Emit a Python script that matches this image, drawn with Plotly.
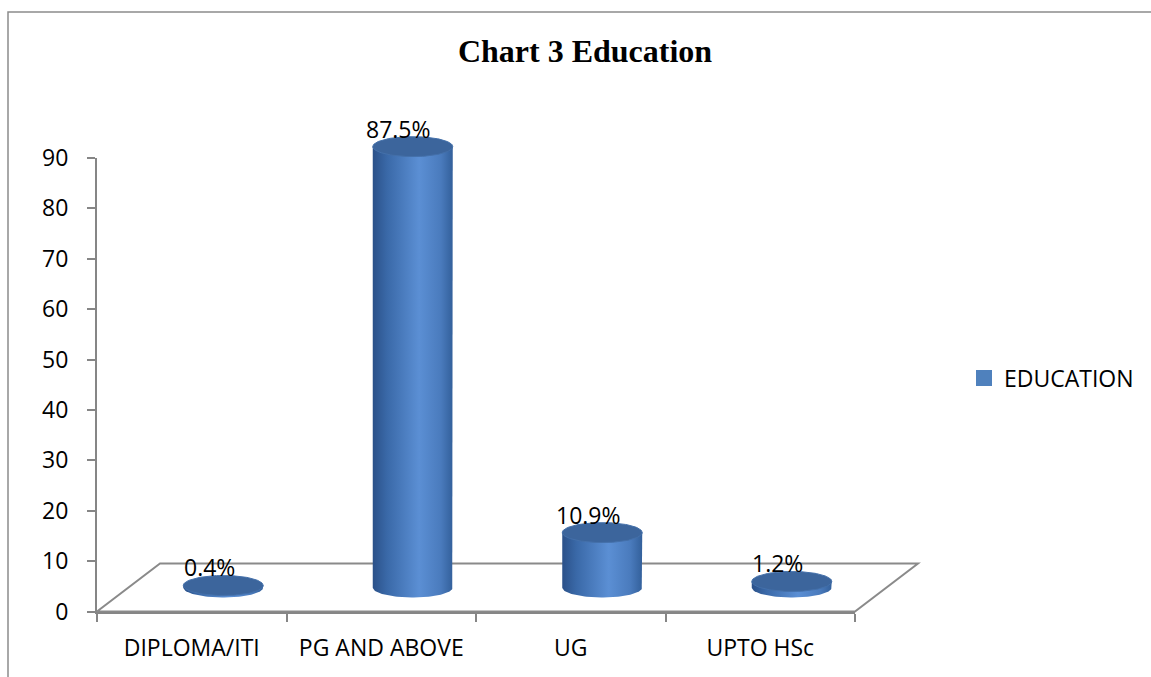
import numpy as np
import plotly.graph_objects as go

# ---------------- data ----------------
categories = ["DIPLOMA/ITI", "PG AND ABOVE", "UG", "UPTO HSc"]
values = [0.4, 87.5, 10.9, 1.2]
value_labels = ["0.4%", "87.5%", "10.9%", "1.2%"]
series_name = "EDUCATION"
y_tick_values = [0, 10, 20, 30, 40, 50, 60, 70, 80, 90]
title_text = "Chart 3 Education"

# ---------------- geometry (pixels of the 1151x677 canvas) ----------------
W, H = 1151, 677
FX0, FX1 = 97, 855          # front floor edge, left/right
FY0, FY90 = 611.5, 158      # value 0 / value 90 on the front axis
PXU = (FY0 - FY90) / 90.0   # pixels per value unit
DDX, DDY = 63, 48           # full depth offset of the floor
CAT_PX = (FX1 - FX0) / len(categories)
R_PX, RY_PX = 40, 10        # cylinder radius / ellipse half-height
Y2_LO, Y2_HI = -6, 110

def fx(px):
    return px / W

def fy(py):
    return 1 - py / H

zero2 = FY0 - DDY / 2
x2_dom = [fx(FX0 + DDX / 2), fx(FX1 + DDX / 2)]
y2_dom = [fy(zero2 - Y2_LO * PXU), fy(zero2 - Y2_HI * PXU)]

rx = R_PX / CAT_PX
ry = RY_PX / PXU

body_scale = [
    [0.0, "#2b5189"],
    [0.18, "#3a69a8"],
    [0.58, "#5b8fd4"],
    [0.85, "#4a7bbd"],
    [1.0, "#33609b"],
]

fig = go.Figure()

fig.add_trace(go.Scatter(
    x=categories, y=[None] * len(categories), mode="markers",
    name=series_name, xaxis="x", yaxis="y",
    marker=dict(symbol="square", size=16, color="#4f81bd"),
    hoverinfo="skip", showlegend=True,
))

for i, (cat, v) in enumerate(zip(categories, values)):
    a = np.linspace(0, -np.pi, 60)
    bx = list(i + rx * np.cos(a))
    by = list(ry * np.sin(a))
    xs = [i - rx, i - rx, i + rx, i + rx] + bx + [i - rx]
    ys = [0, v, v, 0] + by + [0]
    fig.add_trace(go.Scatter(
        x=xs, y=ys, mode="lines", fill="toself",
        line=dict(width=0, color="rgba(0,0,0,0)"),
        fillgradient=dict(type="horizontal", colorscale=body_scale),
        xaxis="x2", yaxis="y2", showlegend=False, hoverinfo="skip",
    ))
    t = np.linspace(0, 2 * np.pi, 120)
    fig.add_trace(go.Scatter(
        x=list(i + rx * np.cos(t)), y=list(v + ry * np.sin(t)),
        mode="lines", fill="toself", fillcolor="#3c659c",
        line=dict(width=1, color="#4470aa"),
        xaxis="x2", yaxis="y2", showlegend=False, hoverinfo="skip",
    ))

for i, (v, lab) in enumerate(zip(values, value_labels)):
    fig.add_annotation(
        x=i, y=v, xref="x2", yref="y2", text=lab, showarrow=False,
        xshift=-14, yshift=18,
        font=dict(family="Open Sans", size=23, color="#000000"),
    )

floor_path = (
    f"M {fx(FX0)},{fy(FY0)} L {fx(FX1)},{fy(FY0)} "
    f"L {fx(FX1 + DDX)},{fy(FY0 - DDY)} L {fx(FX0 + DDX)},{fy(FY0 - DDY)} Z"
)
fig.add_shape(type="path", path=floor_path, xref="paper", yref="paper",
              line=dict(color="#8a8a8a", width=2), layer="below")
fig.add_shape(type="rect", xref="paper", yref="paper",
              x0=fx(8), y0=fy(12), x1=1.02, y1=-0.02,
              line=dict(color="#8c8c8c", width=1.5), layer="below")

axis_col = "#868686"
fig.update_layout(
    width=W, height=H, autosize=False,
    margin=dict(l=0, r=0, t=0, b=0, pad=0, autoexpand=False),
    paper_bgcolor="#ffffff", plot_bgcolor="rgba(0,0,0,0)",
    font=dict(family="Open Sans", size=23, color="#000000"),
    title=dict(text=title_text, x=fx(585), xanchor="center",
               y=fy(51), yanchor="middle", xref="paper", yref="container",
               automargin=False,
               font=dict(family="Liberation Serif", size=32, color="#000000",
                         weight="bold")),
    xaxis=dict(
        domain=[fx(FX0), fx(FX1)], type="category",
        categoryorder="array", categoryarray=categories,
        range=[-0.5, len(categories) - 0.5],
        showline=True, linecolor=axis_col, linewidth=2,
        ticks="outside", tickson="boundaries", ticklen=8,
        tickcolor=axis_col, tickwidth=2, automargin=False,
        showgrid=False, zeroline=False, fixedrange=True,
        tickfont=dict(size=23), ticklabelstandoff=15, anchor="y",
    ),
    yaxis=dict(
        domain=[fy(FY0), fy(FY90)], range=[0, 90],
        tickvals=y_tick_values, automargin=False,
        showline=True, linecolor=axis_col, linewidth=2,
        ticks="outside", ticklen=8, tickcolor=axis_col, tickwidth=2,
        showgrid=False, zeroline=False, fixedrange=True,
        tickfont=dict(size=23), ticklabelstandoff=14, anchor="x",
    ),
    xaxis2=dict(domain=x2_dom, range=[-0.5, len(categories) - 0.5],
                visible=False, anchor="y2", fixedrange=True, automargin=False),
    yaxis2=dict(domain=y2_dom, range=[Y2_LO, Y2_HI],
                visible=False, anchor="x2", fixedrange=True, automargin=False),
    legend=dict(x=fx(964), xanchor="left", y=fy(378), yanchor="middle",
                font=dict(size=23), bgcolor="rgba(0,0,0,0)",
                itemsizing="trace"),
    showlegend=True,
)

fig.write_html(
    "out.html",
    config={"displayModeBar": False, "staticPlot": True},
    post_script="document.body.style.margin='0';"
                "document.body.style.padding='0';"
                "document.body.style.overflow='hidden';",
)
